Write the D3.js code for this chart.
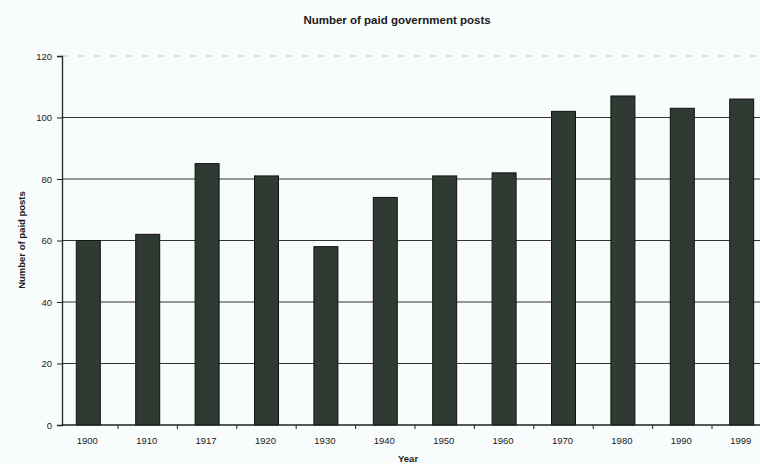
<!DOCTYPE html>
<html>
<head>
<meta charset="utf-8">
<script src="https://cdn.jsdelivr.net/npm/d3@7"></script>
<style>
  html, body { margin: 0; padding: 0; background: #f9fcfc; }
  svg { display: block; }
  text { font-family: "Liberation Sans", Arial, sans-serif; fill: #1a1a1a; }
</style>
</head>
<body>
<svg id="chart" width="760" height="464"></svg>
<script>
const years = ["1900","1910","1917","1920","1930","1940","1950","1960","1970","1980","1990","1999"];
const posts = [60, 62, 85, 81, 58, 74, 81, 82, 102, 107, 103, 106];
const yTicks = [0, 20, 40, 60, 80, 100, 120];
const title = "Number of paid government posts";
const xTitle = "Year";
const yTitle = "Number of paid posts";

const svg = d3.select("#chart");
const W = 760, H = 464;
const axisX = 62;
const m = {left: 58.6, top: 56, bottom: 425, right: 771.4};

svg.append("rect").attr("width", W).attr("height", H).attr("fill", "#f9fcfc");

const x = d3.scaleBand().domain(years).range([m.left, m.right]).paddingInner(0.596).paddingOuter(0.298);
const y = d3.scaleLinear().domain([0, 120]).range([m.bottom, m.top]);

// gridlines
svg.append("g").selectAll("line").data(yTicks.filter(t => t > 0 && t < 120)).join("line")
  .attr("x1", axisX).attr("x2", W)
  .attr("y1", d => y(d)).attr("y2", d => y(d))
  .attr("stroke", "#333").attr("stroke-width", 1);
// faint top line
svg.append("line").attr("x1", axisX).attr("x2", W).attr("y1", y(120)).attr("y2", y(120))
  .attr("stroke", "#999").attr("stroke-width", 1).attr("stroke-dasharray", "6,10").attr("opacity", 0.6);

// bars
svg.append("g").selectAll("rect").data(years).join("rect")
  .attr("x", d => x(d))
  .attr("width", x.bandwidth())
  .attr("y", (d, i) => y(posts[i]))
  .attr("height", (d, i) => y(0) - y(posts[i]))
  .attr("fill", "#2f3a33")
  .attr("stroke", "#111")
  .attr("stroke-width", 1);

// y axis
const yAxis = d3.axisLeft(y).tickValues(yTicks).tickSize(5).tickPadding(5);
const gy = svg.append("g").attr("transform", `translate(${axisX},0)`).call(yAxis);
gy.select(".domain").attr("stroke", "#222").attr("stroke-width", 1.3);
gy.selectAll(".tick line").attr("stroke", "#222");
gy.selectAll("text").attr("font-size", 9.5).attr("fill", "#1a1a1a");

// x axis
const gx = svg.append("g").attr("transform", `translate(0,${m.bottom})`);
gx.append("line").attr("x1", axisX).attr("x2", W).attr("stroke", "#222").attr("stroke-width", 1.3);
const step = x.step();
const bounds = d3.range(1, years.length).map(i => m.left + i * step);
gx.selectAll(".xt").data(bounds).join("line")
  .attr("x1", d => d).attr("x2", d => d).attr("y1", 0).attr("y2", 4)
  .attr("stroke", "#222");
gx.selectAll(".xl").data(years).join("text")
  .attr("x", d => x(d) + x.bandwidth() / 2 - 1)
  .attr("y", 19)
  .attr("text-anchor", "middle")
  .attr("font-size", 9.5)
  .text(d => d);

// titles
svg.append("text").attr("x", 397).attr("y", 24).attr("text-anchor", "middle")
  .attr("font-size", 11.5).attr("font-weight", "bold").text(title);
svg.append("text").attr("x", 398).attr("y", 462).attr("text-anchor", "start")
  .attr("font-size", 9.5).attr("font-weight", "bold").text(xTitle);
svg.append("text").attr("transform", "translate(25,240) rotate(-90)").attr("text-anchor", "middle")
  .attr("font-size", 9.5).attr("font-weight", "bold").text(yTitle);
</script>
</body>
</html>
